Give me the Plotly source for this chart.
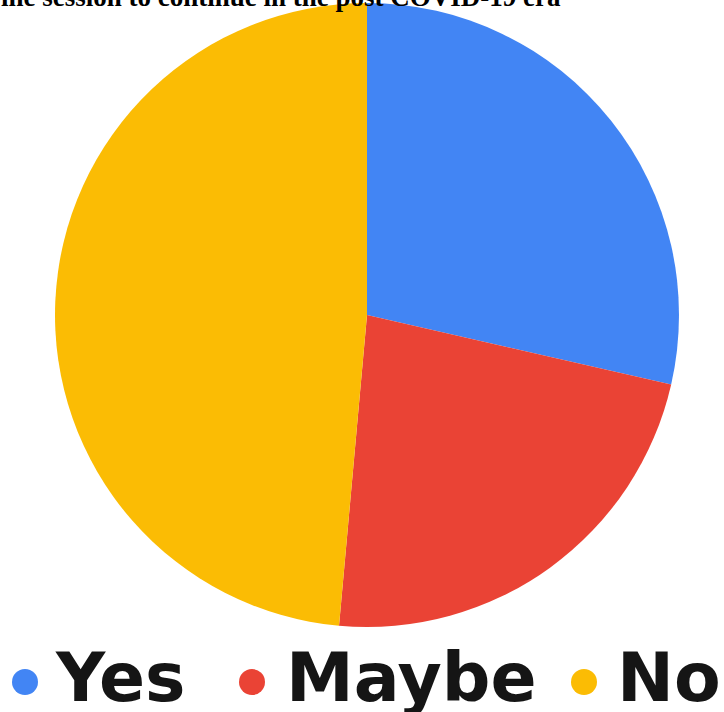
import plotly.graph_objects as go

# Survey responses
categories = ["Yes", "Maybe", "No"]
counts = [10, 8, 17]
colors = ["#4285F4", "#EA4335", "#FBBC04"]
title_text = "ine session to continue in the post COVID-19 era"

W, H = 724, 712


def px(x):
    return x / W


def py(y):
    return 1 - y / H


fig = go.Figure()
fig.add_trace(go.Pie(
    labels=categories,
    values=counts,
    marker=dict(colors=colors, line=dict(width=0)),
    sort=False,
    direction="clockwise",
    rotation=0,
    textinfo="none",
    hoverinfo="label+percent",
    showlegend=False,
    domain=dict(x=[px(55), px(679)], y=[py(627), py(3)]),
))

annotations = [
    dict(text=f"<b>{title_text}</b>", x=px(-1), y=1, xref="paper", yref="paper",
         xanchor="left", yanchor="bottom", yshift=-14, showarrow=False,
         font=dict(family="Liberation Serif", size=27, color="#000000")),
]

# Custom legend: coloured dots followed by heavy labels
legend_dots = [25, 252, 584]
legend_text_x = [53, 284, 615]
shapes = []
for cat, col, dx, tx in zip(categories, colors, legend_dots, legend_text_x):
    r = 13
    shapes.append(dict(type="circle", xref="paper", yref="paper",
                       x0=px(dx - r), x1=px(dx + r), y0=py(682 + r), y1=py(682 - r),
                       fillcolor=col, line=dict(width=0)))
    annotations.append(dict(text=f"<b>{cat}</b>", x=px(tx), y=py(677), xref="paper", yref="paper",
                            xanchor="left", yanchor="middle", showarrow=False,
                            font=dict(family="DejaVu Sans", size=68, color="#151515")))

fig.update_layout(
    width=W, height=H,
    margin=dict(l=0, r=0, t=0, b=0),
    paper_bgcolor="white",
    plot_bgcolor="white",
    annotations=annotations,
    shapes=shapes,
)

fig.write_html("out.html")
